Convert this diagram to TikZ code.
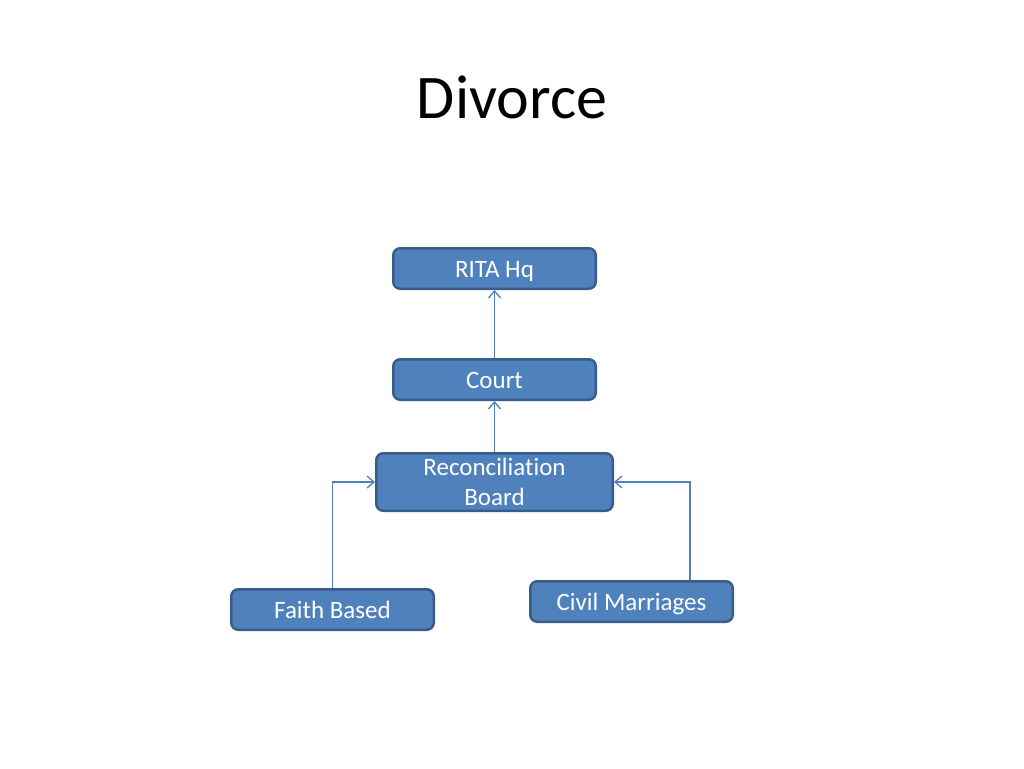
\documentclass[tikz,border=0pt]{standalone}
\usepackage{fontspec}
\setmainfont[Ligatures=NoCommon]{Carlito}
\usetikzlibrary{arrows.meta}
\definecolor{boxfill}{HTML}{4F81BD}
\definecolor{boxline}{HTML}{385D8A}
\definecolor{conn}{HTML}{4F81BD}
\begin{document}
\begin{tikzpicture}[x=1pt,y=-1pt,
  box/.style={draw=boxline, fill=boxfill, line width=2.5pt, rounded corners=7pt,
    text=white, inner sep=0pt, align=center, font=\fontsize{25}{30}\selectfont},
  onebox/.style={box, minimum width=202.5pt, minimum height=40.5pt, text height=17pt, text depth=0pt},
  conn/.style={draw=conn, line width=1.3pt, -{Straight Barb[length=7pt,width=12pt,line width=1.3pt]}}]
\useasboundingbox (0,0) rectangle (1024,768);
\fill[white] (0,0) rectangle (1024,768);
\node (title) at (512,97) {\fontsize{62}{70}\selectfont Divorce};
\node[onebox] (rita) at (494.5,268.5) {RITA Hq};
\node[onebox] (court) at (494.5,379.5) {Court};
\node[box, minimum width=236.5pt, minimum height=57.5pt] (rb) at (494.5,482) {\raisebox{-1.5pt}{\parbox{200pt}{\centering Reconciliation\\Board}}};
\node[onebox] (faith) at (332.5,609.5) {Faith Based};
\node[onebox] (civil) at (631.5,601.5) {Civil Marriages};
\draw[conn] (court.north) -- (rita.south);
\draw[conn] (rb.north) -- (court.south);
\draw[conn] (faith.north) |- (rb.west);
\draw[conn] ([xshift=58.5pt]civil.north) |- (rb.east);
\end{tikzpicture}
\end{document}
